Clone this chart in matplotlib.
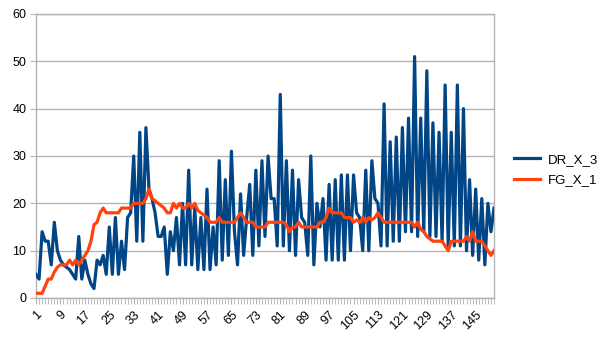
import matplotlib
matplotlib.use("Agg")
import matplotlib.pyplot as plt
import numpy as np

plt.rcParams['font.family'] = ['Liberation Sans', 'DejaVu Sans']

# Series values, one per row number (1..151)
dr_x_3 = [
    5, 4, 14, 12, 12, 7, 16, 10, 8, 7,
    6.5, 6, 5, 4, 13, 4, 8, 5, 3, 2,
    8, 7, 9, 5, 15, 5, 17, 5, 12, 6,
    17, 18, 30, 12, 35, 12, 36, 23, 21, 18,
    13, 13, 15, 5, 14, 10, 17, 7, 20, 7,
    27, 7, 19, 6, 17, 6, 23, 6, 15, 7,
    29, 8, 25, 9, 31, 14, 7, 22, 9, 17,
    24, 9, 27, 11, 29, 13, 30, 21, 21, 11,
    43, 11, 29, 10, 27, 9, 25, 17, 16, 9,
    30, 7, 20, 15, 21, 8, 24, 8, 25, 8,
    26, 8, 26, 10, 26, 18, 17, 10, 27, 10,
    29, 21, 20, 11, 41, 11, 33, 12, 34, 12,
    36, 14, 38, 14, 51, 13, 38, 14, 48, 13,
    37, 13, 35, 12, 45, 11, 35, 11, 45, 11,
    40, 10, 25, 9, 23, 8, 21, 7, 20, 14,
    19,
]
fg_x_1 = [
    1, 1, 1, 2.5, 4, 4, 5.5, 6.5, 7, 7,
    7, 8, 7, 8, 7, 8, 9, 10, 12, 15.5,
    16, 18, 19, 18, 18, 18, 18, 18, 19, 19,
    19, 19, 20, 20, 20, 20, 21, 23, 21, 20.5,
    20, 19.5, 19, 18, 18, 20, 19, 20, 19, 19,
    20, 19, 20, 18.5, 18, 17.5, 17, 16, 16, 16,
    17, 16, 16, 16, 16, 16, 17, 18, 17, 16,
    16, 16, 15, 15, 15, 15, 16, 16, 16, 16,
    16, 16, 15.5, 14, 15, 15, 16, 15, 15, 15,
    15, 15, 15, 16, 16, 17, 19, 18, 18, 18,
    18, 17, 17, 17, 16, 16.5, 16, 17, 16, 17,
    16.5, 17, 18, 17, 16, 16, 16, 16, 16, 16,
    16, 16, 16, 16, 15, 16, 14.5, 14, 13, 12.5,
    12, 12, 12, 12, 11, 10, 12, 12, 12, 12,
    12, 13, 12, 14, 12, 12, 12, 11, 10, 9,
    10,
]
rows = np.arange(1, len(dr_x_3) + 1)
label_rows = np.arange(1, len(rows) + 1, 8)

fig = plt.figure(figsize=(6.05, 3.40), dpi=100)
ax = fig.add_axes([36 / 605, 42 / 340, 458 / 605, 284 / 340])

ax.plot(rows, dr_x_3, color='#004586', linewidth=2.3, label='DR_X_3',
        solid_joinstyle='round', zorder=3)
ax.plot(rows, fg_x_1, color='#ff420e', linewidth=2.3, label='FG_X_1',
        solid_joinstyle='round', zorder=4)

ax.set_xlim(1, len(rows))
ax.set_ylim(0, 60)
ax.set_yticks(range(0, 61, 10))
ax.set_xticks(label_rows)
ax.set_xticks(rows, minor=True)
ax.set_xticklabels([str(r) for r in label_rows], rotation=45, ha='right',
                   rotation_mode='anchor')

ax.grid(axis='y', color='#b3b3b3', linewidth=1)
ax.set_axisbelow(True)
for side in ax.spines.values():
    side.set_color('#b3b3b3')
    side.set_linewidth(1)

ax.tick_params(axis='both', which='both', direction='out', color='#b3b3b3',
               labelsize=9, labelcolor='black')
ax.tick_params(axis='x', which='both', length=4)
ax.tick_params(axis='y', length=4, pad=3)

fig.legend(loc='center left', bbox_to_anchor=(502 / 605, 0.5), frameon=False,
           fontsize=9.5, handlelength=2.0, handletextpad=0.6, labelspacing=0.6)

fig.savefig('out.png', dpi=100)
